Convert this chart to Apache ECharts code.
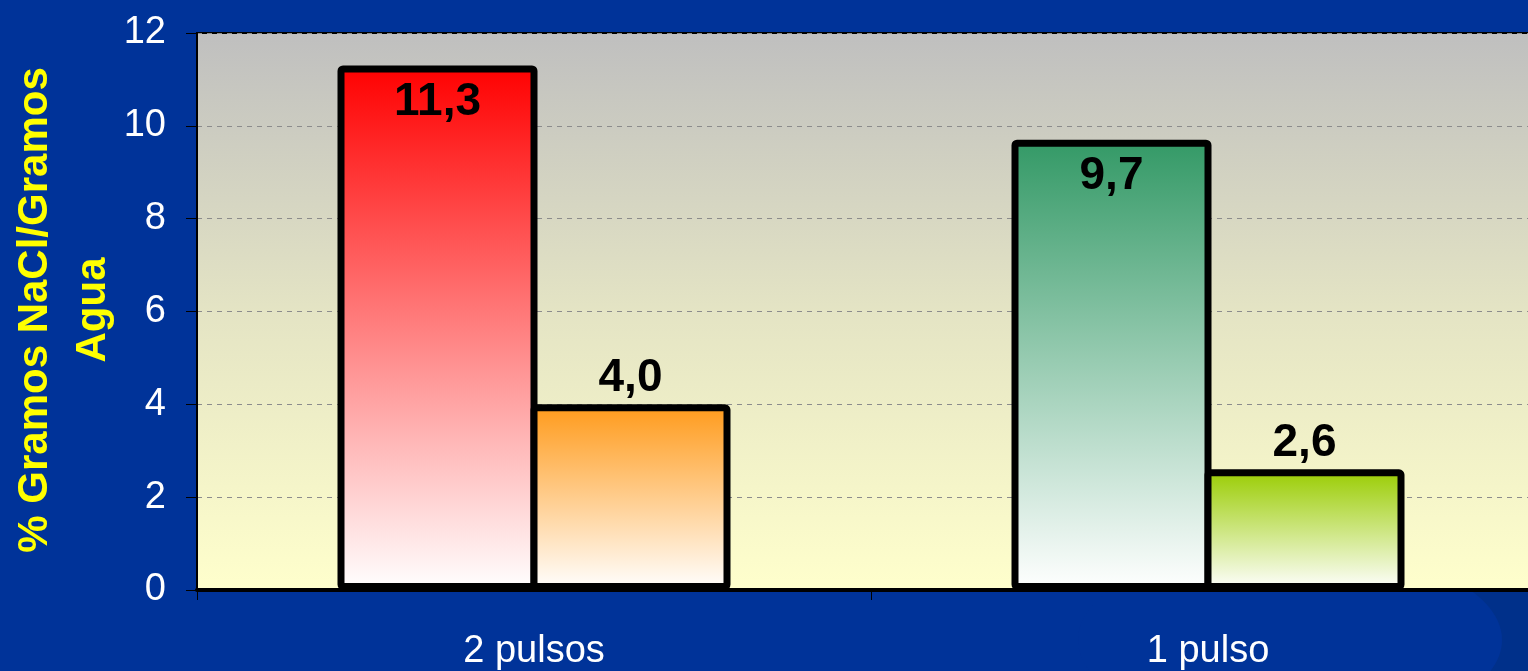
<!DOCTYPE html>
<html>
<head>
<meta charset="utf-8">
<title>% Gramos NaCl/Gramos Agua</title>
<script src="https://cdn.jsdelivr.net/npm/echarts@6/dist/echarts.min.js"></script>
<style>
  html, body { margin: 0; padding: 0; background: #003399; }
  #chart { width: 1528px; height: 671px; }
</style>
</head>
<body>
<div id="chart"></div>
<script>
// Salt content per treatment
const categories = ['2 pulsos', '1 pulso'];
const firstBar = [11.3, 9.7];
const secondBar = [4.0, 2.6];
const firstBarColors = ['#ff0000', '#339966'];
const secondBarColors = ['#ff9a1a', '#99cc00'];
const yAxisTitle = ['% Gramos NaCl/Gramos', 'Agua'];

const FONT = '"Liberation Sans", Arial, sans-serif';

function fade(top) {
  return new echarts.graphic.LinearGradient(0, 0, 0, 1, [
    { offset: 0, color: top },
    { offset: 1, color: '#ffffff' }
  ]);
}

function fmt(p) {
  return p.value.toFixed(1).replace('.', ',');
}

const barStyle = {
  borderColor: '#000000',
  borderWidth: 7,
  borderRadius: 2
};

// neighbouring bars overlap by one border width so they share a single edge
const BAR_W = 200;
const BAR_GAP = (-7 / BAR_W * 100).toFixed(2) + '%';

const chart = echarts.init(document.getElementById('chart'), null, { renderer: 'canvas' });

chart.setOption({
  backgroundColor: '#003399',
  animation: false,
  graphic: [
    // darker swoosh in the lower right corner of the slide
    {
      type: 'rect', z: -10, silent: true,
      shape: { x: 1440, y: 592, width: 100, height: 90 },
      style: { fill: '#00308a' }
    },
    {
      type: 'ellipse', z: -9, silent: true,
      shape: { cx: 1290, cy: 640, rx: 212, ry: 95 },
      style: { fill: '#003399' }
    },
    {
      type: 'text', silent: true,
      x: 35, y: 310, rotation: Math.PI / 2,
      style: {
        text: yAxisTitle[0],
        font: 'bold 42px ' + FONT,
        fill: '#ffff00',
        align: 'center',
        verticalAlign: 'middle'
      }
    },
    {
      type: 'text', silent: true,
      x: 93, y: 310, rotation: Math.PI / 2,
      style: {
        text: yAxisTitle[1],
        font: 'bold 42px ' + FONT,
        fill: '#ffff00',
        align: 'center',
        verticalAlign: 'middle'
      }
    }
  ],
  grid: {
    left: 197,
    right: -17,
    top: 33,
    bottom: 81,
    outerBoundsMode: 'none',
    containLabel: false,
    show: true,
    borderColor: '#000000',
    borderWidth: 2,
    backgroundColor: new echarts.graphic.LinearGradient(0, 0, 0, 1, [
      { offset: 0, color: '#bfbfbf' },
      { offset: 0.5, color: '#e4e4c4' },
      { offset: 1, color: '#ffffcc' }
    ])
  },
  xAxis: {
    type: 'category',
    data: categories,
    axisLine: { show: true, lineStyle: { color: '#000000', width: 4 } },
    axisTick: { show: true, length: 10, lineStyle: { color: '#000000', width: 1 } },
    axisLabel: {
      color: '#ffffff',
      fontSize: 38,
      fontFamily: FONT,
      margin: 43
    },
    splitLine: { show: false }
  },
  yAxis: {
    type: 'value',
    min: 0,
    max: 12,
    interval: 2,
    axisLine: { show: true, lineStyle: { color: '#000000', width: 2 } },
    axisTick: { show: true, length: 11, lineStyle: { color: '#000000', width: 1 } },
    axisLabel: {
      color: '#ffffff',
      fontSize: 38,
      fontFamily: FONT,
      margin: 31
    },
    splitLine: {
      show: true,
      lineStyle: { color: '#8c8c8c', width: 1, type: [5, 5] }
    }
  },
  series: [
    {
      type: 'bar',
      barWidth: BAR_W,
      barGap: BAR_GAP,
      data: firstBar.map((v, i) => ({
        value: v,
        itemStyle: Object.assign({ color: fade(firstBarColors[i]) }, barStyle)
      })),
      label: {
        show: true,
        position: 'insideTop',
        distance: 14,
        formatter: fmt,
        color: '#000000',
        fontSize: 46,
        fontWeight: 'bold',
        fontFamily: FONT
      }
    },
    {
      type: 'bar',
      barWidth: BAR_W,
      barGap: BAR_GAP,
      data: secondBar.map((v, i) => ({
        value: v,
        itemStyle: Object.assign({ color: fade(secondBarColors[i]) }, barStyle)
      })),
      label: {
        show: true,
        position: 'top',
        distance: 3,
        formatter: fmt,
        color: '#000000',
        fontSize: 46,
        fontWeight: 'bold',
        fontFamily: FONT
      }
    }
  ]
});
</script>
</body>
</html>
